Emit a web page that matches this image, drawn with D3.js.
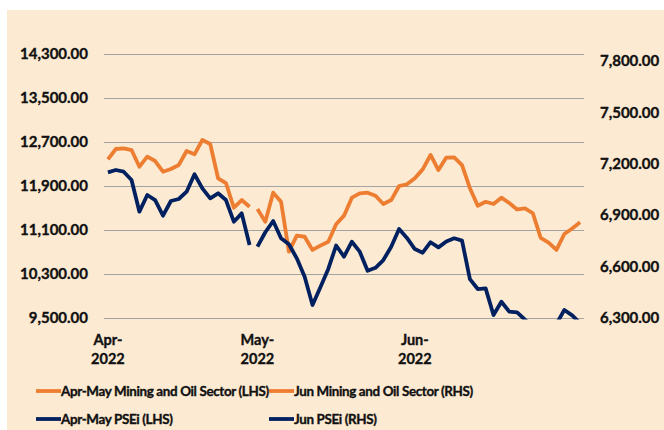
<!DOCTYPE html>
<html>
<head>
<meta charset="utf-8">
<script src="https://cdn.jsdelivr.net/npm/d3@7"></script>
<style>
  body { margin: 0; background: #fff; }
  text { stroke: #111; stroke-width: 0.35px; }
</style>
</head>
<body>
<div id="container"></div>
<script>
const width = 664;
const height = 430;

// trading days, Apr - Jun 2022
const days = [
  '2022-04-01', '2022-04-04', '2022-04-05', '2022-04-06', '2022-04-07', '2022-04-08',
  '2022-04-11', '2022-04-12', '2022-04-13', '2022-04-18', '2022-04-19', '2022-04-20',
  '2022-04-21', '2022-04-22', '2022-04-25', '2022-04-26', '2022-04-27', '2022-04-28',
  '2022-04-29',
  '2022-05-02', '2022-05-04', '2022-05-05', '2022-05-06', '2022-05-10', '2022-05-11',
  '2022-05-12', '2022-05-13', '2022-05-16', '2022-05-17', '2022-05-18', '2022-05-19',
  '2022-05-20', '2022-05-23', '2022-05-24', '2022-05-25', '2022-05-26', '2022-05-27',
  '2022-05-30', '2022-05-31',
  '2022-06-01', '2022-06-02', '2022-06-03', '2022-06-06', '2022-06-07', '2022-06-08',
  '2022-06-09', '2022-06-10', '2022-06-13', '2022-06-14', '2022-06-15', '2022-06-16',
  '2022-06-17', '2022-06-20', '2022-06-21', '2022-06-22', '2022-06-23', '2022-06-24',
  '2022-06-27', '2022-06-28', '2022-06-29', '2022-06-30'
];

const monthTicks = ['2022-04-01', '2022-05-02', '2022-06-01'];
const monthLabels = [['Apr-', '2022'], ['May-', '2022'], ['Jun-', '2022']];

const leftTicks = [9500, 10300, 11100, 11900, 12700, 13500, 14300];
const rightTicks = [6300, 6600, 6900, 7200, 7500, 7800];

// Apr-May series (LHS), first 19 days
const aprMayMining = [12385, 12573, 12585, 12554, 12251, 12433, 12354, 12160, 12209, 12282,
  12536, 12476, 12736, 12663, 12040, 11954, 11505, 11645, 11524];
const aprMayPsei = [12149, 12191, 12160, 12009, 11433, 11736, 11645, 11360, 11627, 11664,
  11796, 12113, 11858, 11676, 11767, 11645, 11251, 11403, 10827];

// Jun series (RHS), remaining days
const junMining = [6936, 6862, 7031, 6978, 6687, 6780, 6774, 6697, 6722, 6745,
  6847, 6897, 7002, 7027, 7031, 7013, 6965, 6988, 7070, 7080,
  7115, 7167, 7251, 7163, 7236, 7237, 7192, 7057, 6955, 6978,
  6965, 7002, 6971, 6933, 6940, 6911, 6767, 6740, 6697, 6790,
  6822, 6858];
const junPsei = [6716, 6800, 6866, 6765, 6730, 6648, 6541, 6376, 6479, 6586,
  6723, 6658, 6745, 6687, 6576, 6593, 6638, 6716, 6819, 6767,
  6702, 6681, 6742, 6712, 6746, 6765, 6751, 6527, 6469, 6473,
  6317, 6395, 6337, 6333, 6290, 6250, 6230, 6240, 6265, 6347,
  6315, 6270];

const orange = '#ED7D31';
const navy = '#002060';
const font = 'Lato, "Open Sans", sans-serif';

const plot = { left: 104, right: 584, top: 54, bottom: 318 };

const x = d3.scalePoint().domain(days).range([plot.left, plot.right]).padding(0.5);
const yL = d3.scaleLinear().domain([9500, 14300]).range([plot.bottom, plot.top]);
const yR = d3.scaleLinear().domain([6300, 7840]).range([plot.bottom, plot.top]);

const fmt = d3.format(',.2f');

const svg = d3.select('#container')
  .append('svg')
  .attr('width', width)
  .attr('height', height)
  .attr('font-family', font);

svg.append('rect')
  .attr('x', 7).attr('y', 10)
  .attr('width', width - 7).attr('height', height - 10)
  .attr('fill', '#FCEAD2');

svg.append('defs').append('clipPath')
  .attr('id', 'plotclip')
  .append('rect')
  .attr('x', plot.left - 10).attr('y', plot.top - 5)
  .attr('width', plot.right - plot.left + 20)
  .attr('height', plot.bottom - plot.top + 6.5);

// gridlines + left labels
svg.append('g')
  .attr('transform', `translate(${plot.left},0)`)
  .call(d3.axisLeft(yL).tickValues(leftTicks).tickSize(-(plot.right - plot.left)).tickFormat(fmt))
  .call(g => g.select('.domain').remove())
  .call(g => g.selectAll('.tick line').attr('stroke', '#a3a3a3').attr('stroke-width', 1.2))
  .call(g => g.selectAll('.tick text')
    .attr('x', -16)
    .attr('font-family', font)
    .attr('font-size', 15)
    .attr('font-weight', 'bold')
    .attr('fill', '#111'));

// right labels
svg.append('g')
  .attr('transform', `translate(${plot.right},0)`)
  .call(d3.axisRight(yR).tickValues(rightTicks).tickSize(0).tickFormat(fmt))
  .call(g => g.select('.domain').remove())
  .call(g => g.selectAll('.tick text')
    .attr('x', 16)
    .attr('font-family', font)
    .attr('font-size', 15)
    .attr('font-weight', 'bold')
    .attr('fill', '#111'));

// month labels
const xl = svg.append('g')
  .selectAll('text')
  .data(monthTicks)
  .join('text')
  .attr('x', d => x(d))
  .attr('text-anchor', 'middle')
  .attr('font-size', 14.5)
  .attr('font-weight', 'bold')
  .attr('fill', '#111');
xl.append('tspan').attr('x', d => x(d)).attr('y', 345).text((d, i) => monthLabels[i][0]);
xl.append('tspan').attr('x', d => x(d)).attr('y', 364).text((d, i) => monthLabels[i][1]);

const lines = svg.append('g').attr('clip-path', 'url(#plotclip)');

const series = [
  { vals: aprMayMining, start: 0, y: yL, color: orange },
  { vals: junMining, start: aprMayMining.length, y: yR, color: orange },
  { vals: aprMayPsei, start: 0, y: yL, color: navy },
  { vals: junPsei, start: aprMayPsei.length, y: yR, color: navy }
];

series.forEach(s => {
  const line = d3.line()
    .x((d, i) => x(days[s.start + i]))
    .y(d => s.y(d));
  lines.append('path')
    .datum(s.vals)
    .attr('d', line)
    .attr('fill', 'none')
    .attr('stroke', s.color)
    .attr('stroke-width', 3.8)
    .attr('stroke-linejoin', 'round');
});

// legend
const legendItems = [
  { label: 'Apr-May Mining and Oil Sector (LHS)', color: orange, x: 36, y: 391 },
  { label: 'Jun Mining and Oil Sector (RHS)', color: orange, x: 269, y: 391 },
  { label: 'Apr-May PSEi (LHS)', color: navy, x: 36, y: 419 },
  { label: 'Jun PSEi (RHS)', color: navy, x: 269, y: 419 }
];

const lg = svg.append('g')
  .selectAll('g')
  .data(legendItems)
  .join('g')
  .attr('transform', d => `translate(${d.x},${d.y})`);

lg.append('line')
  .attr('x1', 0).attr('x2', 25)
  .attr('stroke', d => d.color)
  .attr('stroke-width', 3.8);

lg.append('text')
  .attr('x', 25)
  .attr('dy', '0.35em')
  .attr('font-size', 13.4)
  .attr('letter-spacing', -0.35)
  .attr('font-weight', 'bold')
  .attr('fill', '#111')
  .text(d => d.label);
</script>
</body>
</html>
